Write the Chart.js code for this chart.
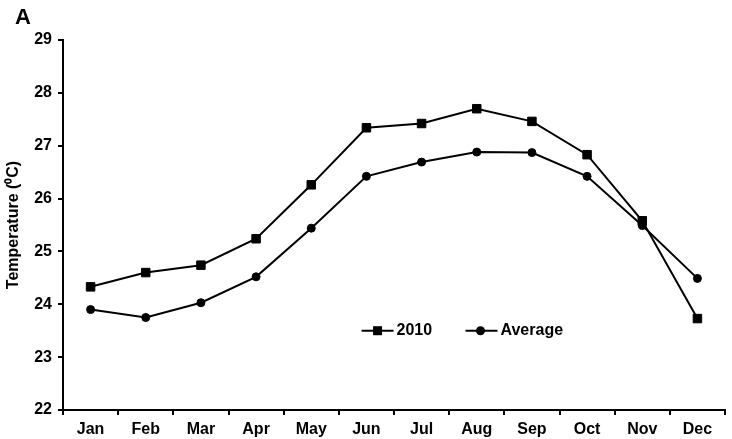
<!DOCTYPE html>
<html>
<head>
<meta charset="utf-8">
<script src="https://cdn.jsdelivr.net/npm/chart.js@4.4.1/dist/chart.umd.min.js"></script>
<style>
  body { margin: 0; background: #fff; }
  #wrap { width: 732px; height: 439px; position: relative; }
</style>
</head>
<body>
<div id="wrap"><canvas id="chart-a"></canvas></div>
<script>
var months = ["Jan", "Feb", "Mar", "Apr", "May", "Jun", "Jul", "Aug", "Sep", "Oct", "Nov", "Dec"];
var temp_2010 = [24.33, 24.60, 24.74, 25.24, 26.26, 27.34, 27.42, 27.70, 27.46, 26.83, 25.58, 23.73];
var temp_average = [23.90, 23.75, 24.03, 24.52, 25.44, 26.42, 26.69, 26.88, 26.87, 26.42, 25.49, 24.49];
var y_ticks = [22, 23, 24, 25, 26, 27, 28, 29];

var font_family = "'Liberation Sans', Arial, sans-serif";

// legend sits inside the plot, drawn by hand
var insideLegend = {
    id: "insideLegend",
    afterDraw: function(chart) {
        var ctx = chart.ctx;
        var area = chart.chartArea;
        var y = chart.scales.y.getPixelForValue(23.5);
        var w = area.right - area.left;
        ctx.save();
        ctx.strokeStyle = "#000";
        ctx.fillStyle = "#000";
        ctx.lineWidth = 2;

        var x1 = area.left + w * 0.451;
        ctx.beginPath();
        ctx.moveTo(x1, y);
        ctx.lineTo(x1 + 32, y);
        ctx.stroke();
        ctx.fillRect(x1 + 16 - 4.5, y - 4.5, 9, 9);

        var x2 = area.left + w * 0.608;
        ctx.beginPath();
        ctx.moveTo(x2, y);
        ctx.lineTo(x2 + 32, y);
        ctx.stroke();
        ctx.beginPath();
        ctx.arc(x2 + 15, y, 4.5, 0, Math.PI * 2);
        ctx.fill();

        ctx.font = "bold 16px " + font_family;
        ctx.textBaseline = "middle";
        ctx.textAlign = "left";
        ctx.fillText("2010", x1 + 35, y);
        ctx.fillText("Average", x2 + 35, y);

        // panel letter
        ctx.font = "bold 22px " + font_family;
        ctx.textBaseline = "top";
        ctx.fillText("A", 15, 7);
        ctx.restore();
    }
};

var ctx = document.getElementById("chart-a").getContext("2d");
var myChart = new Chart(ctx, {
    type: "line",
    data: {
        labels: months,
        datasets: [{
            label: "2010",
            data: temp_2010,
            borderColor: "#000",
            backgroundColor: "#000",
            borderWidth: 2,
            pointStyle: "rect",
            pointRadius: 6,
            pointBorderWidth: 1,
        }, {
            label: "Average",
            data: temp_average,
            borderColor: "#000",
            backgroundColor: "#000",
            borderWidth: 2,
            pointStyle: "circle",
            pointRadius: 4,
            pointBorderWidth: 1,
        }],
    },
    options: {
        responsive: true,
        maintainAspectRatio: false,
        animation: false,
        layout: {
            padding: { top: 40, right: 2, left: 0, bottom: 0 },
        },
        plugins: {
            legend: { display: false },
            tooltip: { enabled: false },
        },
        scales: {
            x: {
                offset: true,
                grid: {
                    offset: true,
                    drawOnChartArea: false,
                    drawTicks: true,
                    tickLength: 5,
                    color: "#000",
                    lineWidth: 2,
                },
                border: { display: true, color: "#000", width: 2 },
                ticks: {
                    color: "#000",
                    padding: 5,
                    font: { family: font_family, size: 16, weight: "bold" },
                },
                afterFit: function(scale) {
                    scale.height = 29;
                },
            },
            y: {
                min: 22,
                max: 29,
                afterBuildTicks: function(scale) {
                    scale.ticks = y_ticks.map(function(v) { return { value: v }; });
                },
                grid: {
                    drawOnChartArea: false,
                    drawTicks: true,
                    tickLength: 5,
                    color: "#000",
                    lineWidth: 2,
                },
                border: { display: true, color: "#000", width: 2 },
                ticks: {
                    color: "#000",
                    padding: 6,
                    font: { family: font_family, size: 16, weight: "bold" },
                },
                title: {
                    display: true,
                    text: "Temperature (\u2070C)",
                    color: "#000",
                    padding: { top: 4, bottom: 0 },
                    font: { family: font_family, size: 16, weight: "bold" },
                },
                afterFit: function(scale) {
                    scale.width = 63;
                },
            },
        },
    },
    plugins: [insideLegend],
});
</script>
</body>
</html>
